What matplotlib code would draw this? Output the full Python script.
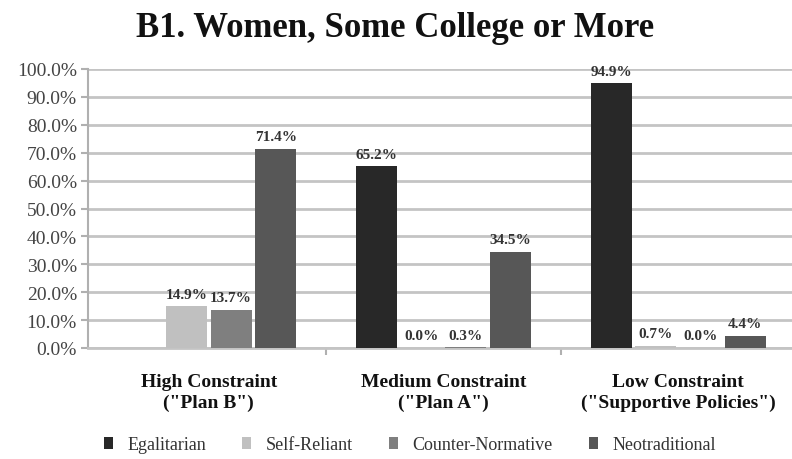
import numpy as np
import matplotlib
matplotlib.use("Agg")
import matplotlib.pyplot as plt
from matplotlib.ticker import MultipleLocator, FuncFormatter

categories = ['High Constraint\n("Plan B")', 'Medium Constraint\n("Plan A")', 'Low Constraint\n("Supportive Policies")']
series_names = ["Egalitarian", "Self-Reliant", "Counter-Normative", "Neotraditional"]
egalitarian = [np.nan, 65.2, 94.9]
self_reliant = [14.9, 0.0, 0.7]
counter_normative = [13.7, 0.3, 0.0]
neotraditional = [71.4, 34.5, 4.4]
colors = ["#282828", "#c0c0c0", "#7f7f7f", "#575757"]

plt.rcParams['font.family'] = ['Liberation Serif', 'DejaVu Serif']
fig = plt.figure(figsize=(7.92, 4.6), dpi=100)
ax = fig.add_axes([88/792, 1 - 349/460, (792-88)/792, (349-70)/460])

x = np.arange(len(categories))
width = 0.175
step = 0.19
data = [egalitarian, self_reliant, counter_normative, neotraditional]
for i, (name, vals, c) in enumerate(zip(series_names, data, colors)):
    pos = x + (i - 1.5) * step
    v = np.array(vals, dtype=float)
    ax.bar(pos, np.nan_to_num(v), width, color=c, label=name, zorder=3,
           edgecolor=c, linewidth=0)
    for p, val in zip(pos, v):
        if np.isnan(val):
            continue
        ax.text(p, val + 2.0, f"{val:.1f}%", ha='center', va='bottom',
                fontsize=11, fontweight='bold', color='#333333', zorder=4)

ax.set_xlim(-0.515, 2.485)
ax.set_ylim(0, 100)
ax.yaxis.set_major_locator(MultipleLocator(10))
ax.yaxis.set_major_formatter(FuncFormatter(lambda v, p: f"{v:.1f}%"))
ax.grid(axis='y', color='#c4c4c4', linewidth=2, zorder=0)
ax.set_axisbelow(True)
for s in ['top', 'right']:
    ax.spines[s].set_visible(False)
ax.spines['left'].set_color('#b0b0b0')
ax.spines['left'].set_linewidth(1.5)
ax.spines['bottom'].set_color('#c4c4c4')
ax.spines['bottom'].set_linewidth(2)
ax.tick_params(axis='y', colors='#b0b0b0', labelcolor='#444444', labelsize=14, length=5, width=1.5, pad=3)
ax.set_xticks(x)
ax.set_xticklabels(categories, fontsize=14, fontweight='bold', color='#111111', linespacing=1.3)
ax.tick_params(axis='x', length=0, pad=18)
ax.set_xticks([0.5, 1.5], minor=True)
ax.tick_params(axis='x', which='minor', length=5, color='#b0b0b0', width=1.5)

fig.suptitle("B1. Women, Some College or More", x=395/792, y=0.973, fontsize=25,
             fontweight='bold', color='#111111')

handles, labels = ax.get_legend_handles_labels()
leg = fig.legend(handles, labels, loc='center', bbox_to_anchor=(410/792, 1 - 446/460),
                 ncol=4, frameon=False, fontsize=13, handlelength=0.5, handleheight=0.6,
                 columnspacing=2.0, handletextpad=0.8)
for t in leg.get_texts():
    t.set_color('#333333')

fig.savefig("out.png", dpi=100)
